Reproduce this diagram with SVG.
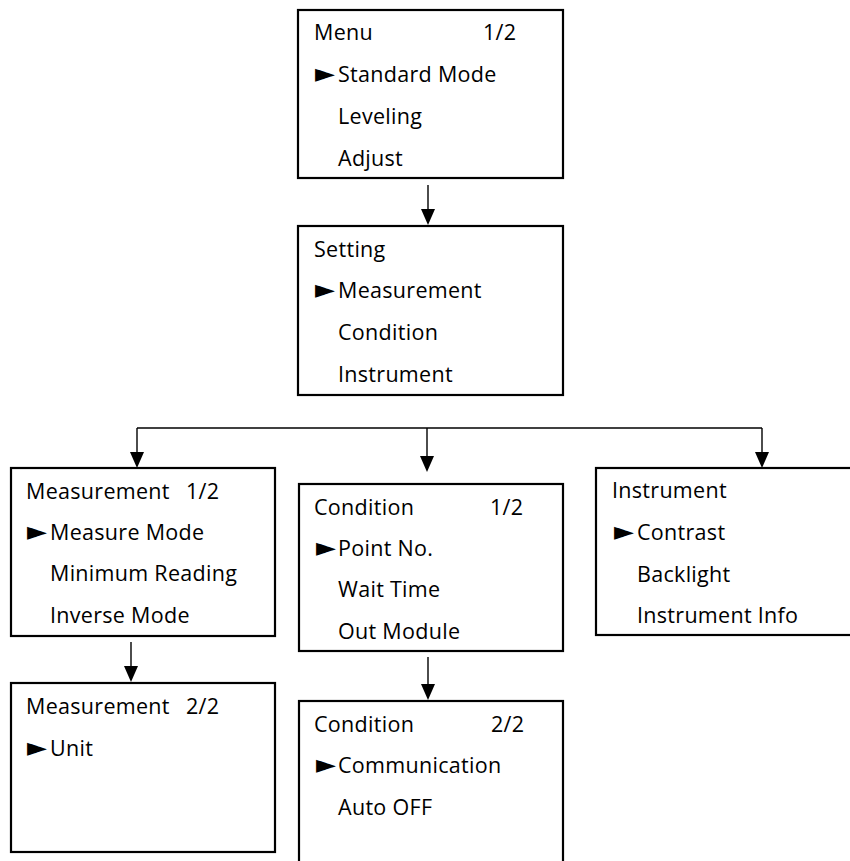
<svg xmlns="http://www.w3.org/2000/svg" width="850" height="861" viewBox="0 0 850 861">
<defs>
<style>
.box{fill:#fff;stroke:#000;stroke-width:2.2}
.t{font-family:"Open Sans","Noto Sans","DejaVu Sans",sans-serif;font-size:21.5px;letter-spacing:0.3px;fill:#000}
.tri{font-family:"DejaVu Sans",sans-serif;font-size:26px;letter-spacing:0}
.c{stroke:#000;stroke-width:1.4;fill:none}
.ah{fill:#000}
</style>
</defs>
<rect width="850" height="861" fill="#fff"/>
<g id="connectors">
<line class="c" x1="428" y1="185" x2="428" y2="210"/>
<polygon class="ah" points="421,209 435,209 428,225"/>
<line class="c" x1="137" y1="428" x2="762" y2="428"/>
<line class="c" x1="137" y1="428" x2="137" y2="453"/>
<polygon class="ah" points="130,452 144,452 137,468"/>
<line class="c" x1="427" y1="428" x2="427" y2="457"/>
<polygon class="ah" points="420,456 434,456 427,472"/>
<line class="c" x1="762" y1="428" x2="762" y2="453"/>
<polygon class="ah" points="755,452 769,452 762,468"/>
<line class="c" x1="131" y1="642" x2="131" y2="667"/>
<polygon class="ah" points="124,666 138,666 131,682"/>
<line class="c" x1="428" y1="657" x2="428" y2="685"/>
<polygon class="ah" points="421,684 435,684 428,700"/>
</g>
<g id="menu">
<rect class="box" x="298" y="10" width="265" height="168"/>
<text class="t" x="314" y="40">Menu</text><text class="t" x="483" y="40">1/2</text>
<text class="t" y="82"><tspan class="tri" x="315">►</tspan><tspan x="338">Standard Mode</tspan></text>
<text class="t" x="338" y="124">Leveling</text>
<text class="t" x="338" y="166">Adjust</text>
</g>
<g id="setting">
<rect class="box" x="298" y="226" width="265" height="169"/>
<text class="t" x="314" y="257">Setting</text>
<text class="t" y="298"><tspan class="tri" x="315">►</tspan><tspan x="338">Measurement</tspan></text>
<text class="t" x="338" y="340">Condition</text>
<text class="t" x="338" y="382">Instrument</text>
</g>
<g id="measurement1">
<rect class="box" x="11" y="468" width="264" height="168"/>
<text class="t" x="26" y="499">Measurement</text><text class="t" x="186" y="499">1/2</text>
<text class="t" y="540"><tspan class="tri" x="27">►</tspan><tspan x="50">Measure Mode</tspan></text>
<text class="t" x="50" y="581">Minimum Reading</text>
<text class="t" x="50" y="623">Inverse Mode</text>
</g>
<g id="condition1">
<rect class="box" x="299" y="484" width="264" height="167"/>
<text class="t" x="314" y="515">Condition</text><text class="t" x="490" y="515">1/2</text>
<text class="t" y="556"><tspan class="tri" x="316">►</tspan><tspan x="338">Point No.</tspan></text>
<text class="t" x="338" y="597">Wait Time</text>
<text class="t" x="338" y="639">Out Module</text>
</g>
<g id="instrument">
<rect class="box" x="596" y="468" width="256" height="167"/>
<text class="t" x="612" y="498">Instrument</text>
<text class="t" y="540"><tspan class="tri" x="614">►</tspan><tspan x="637">Contrast</tspan></text>
<text class="t" x="637" y="582">Backlight</text>
<text class="t" x="637" y="623">Instrument Info</text>
</g>
<g id="measurement2">
<rect class="box" x="11" y="683" width="264" height="169"/>
<text class="t" x="26" y="714">Measurement</text><text class="t" x="186" y="714">2/2</text>
<text class="t" y="756"><tspan class="tri" x="27">►</tspan><tspan x="50">Unit</tspan></text>
</g>
<g id="condition2">
<rect class="box" x="299" y="701" width="264" height="170"/>
<text class="t" x="314" y="732">Condition</text><text class="t" x="491" y="732">2/2</text>
<text class="t" y="773"><tspan class="tri" x="316">►</tspan><tspan x="338">Communication</tspan></text>
<text class="t" x="338" y="815">Auto OFF</text>
</g>
</svg>
